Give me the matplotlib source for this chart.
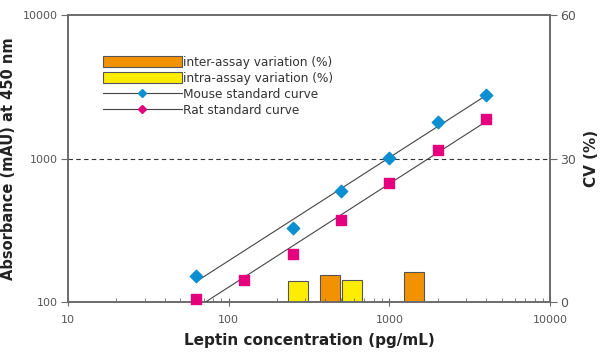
import numpy as np
import matplotlib
matplotlib.use("Agg")
from matplotlib import pyplot as plt
from matplotlib.lines import Line2D
from matplotlib.patches import Patch
from matplotlib.ticker import FixedLocator, NullFormatter, FuncFormatter

conc_mouse = [62.5, 250, 500, 1000, 2000, 4000]
abs_mouse = [152, 330, 590, 1010, 1810, 2760]
conc_rat = [62.5, 125, 250, 500, 1000, 2000, 4000]
abs_rat = [105, 143, 216, 375, 670, 1150, 1900]

# CV bars (right axis)
intra_x = [270, 585]
intra_cv = [4.4, 4.6]
inter_x = [425, 1420]
inter_cv = [5.7, 6.3]

ORANGE = "#F39200"
YELLOW = "#FFED00"
BLUE = "#0A8FD0"
MAGENTA = "#E5007E"
GRID = "#6b6b6b"
TXT = "#555555"

plt.rcParams["font.family"] = ["DejaVu Sans"]

fig = plt.figure(figsize=(6, 3.57), dpi=100)
ax = fig.add_axes([0.113, 0.154, 0.804, 0.804])
ax2 = ax.twinx()

ax.set_xscale("log")
ax.set_yscale("log")
ax.set_xlim(10, 10000)
ax.set_ylim(100, 10000)
ax2.set_ylim(0, 60)

# bars, width fixed in log space
half = 0.0625
def bar_edges(xs):
    left = [x * 10 ** -half for x in xs]
    width = [x * 10 ** half - x * 10 ** -half for x in xs]
    return left, width

l, w = bar_edges(intra_x)
ax2.bar(l, intra_cv, width=w, align="edge", color=YELLOW, edgecolor="#555555", linewidth=0.8, zorder=2)
l, w = bar_edges(inter_x)
ax2.bar(l, inter_cv, width=w, align="edge", color=ORANGE, edgecolor="#555555", linewidth=0.8, zorder=2)

ax2.axhline(30, color="#333333", linestyle=(0, (4, 3)), linewidth=0.8, zorder=1)

# fitted lines in log-log space
for xs, ys in ((conc_mouse, abs_mouse), (conc_rat, abs_rat)):
    p = np.polyfit(np.log10(xs), np.log10(ys), 1)
    xx = np.array([xs[0], xs[-1]])
    ax.plot(xx, 10 ** np.polyval(p, np.log10(xx)), color="#444444", linewidth=0.8, zorder=3)

ax.set_zorder(ax2.get_zorder() + 1)
ax.patch.set_visible(False)

ax.scatter(conc_mouse, abs_mouse, marker="D", s=40, color=BLUE, zorder=4, clip_on=False)
ax.scatter(conc_rat, abs_rat, marker="s", s=60, color=MAGENTA, zorder=4, clip_on=False)

for a in (ax, ax2):
    for s in a.spines.values():
        s.set_color(GRID)
        s.set_linewidth(1.2)

ax.yaxis.set_major_locator(FixedLocator([100, 1000, 10000]))
ax.yaxis.set_minor_locator(FixedLocator([]))
ax.yaxis.set_major_formatter(FuncFormatter(lambda v, p: f"{int(v)}"))
ax.xaxis.set_major_formatter(FuncFormatter(lambda v, p: f"{int(v)}"))
ax.xaxis.set_minor_formatter(NullFormatter())
ax.tick_params(axis="x", which="major", direction="inout", length=6, color=GRID, labelcolor=TXT, labelsize=8, pad=6)
ax.tick_params(axis="x", which="minor", direction="in", length=3, color=GRID)
ax.tick_params(axis="y", which="major", direction="out", length=5, color=GRID, labelcolor=TXT, labelsize=8, pad=2)
ax2.set_yticks([0, 30, 60])
ax2.tick_params(axis="y", direction="out", length=5, color=GRID, labelcolor=TXT, labelsize=9, pad=2)

ax.set_xlabel("Leptin concentration (pg/mL)", fontsize=11, fontweight="bold", color="#222222", labelpad=6)
ax.set_ylabel("Absorbance (mAU) at 450 nm", fontsize=10.5, fontweight="bold", color="#222222", labelpad=5)
ax2.set_ylabel("CV (%)", fontsize=11, fontweight="bold", color="#222222", labelpad=6)

handles = [
    Patch(facecolor=ORANGE, edgecolor="#555555", linewidth=0.8),
    Patch(facecolor=YELLOW, edgecolor="#555555", linewidth=0.8),
    Line2D([0], [0], color="#444444", linewidth=0.8, marker="D", markersize=4,
           markerfacecolor=BLUE, markeredgecolor=BLUE),
    Line2D([0], [0], color="#444444", linewidth=0.8, marker="D", markersize=4,
           markerfacecolor=MAGENTA, markeredgecolor=MAGENTA),
]
labels = ["inter-assay variation (%)", "intra-assay variation (%)",
          "Mouse standard curve", "Rat standard curve"]
ax.legend(handles, labels, loc="upper left", bbox_to_anchor=(0.073, 0.858, 0, 0), frameon=False,
          fontsize=8.7, handlelength=6.5, handleheight=1.0, handletextpad=0.15,
          labelspacing=0.25, borderaxespad=0, borderpad=0, labelcolor="#333333")

fig.savefig("out.png", dpi=100)
